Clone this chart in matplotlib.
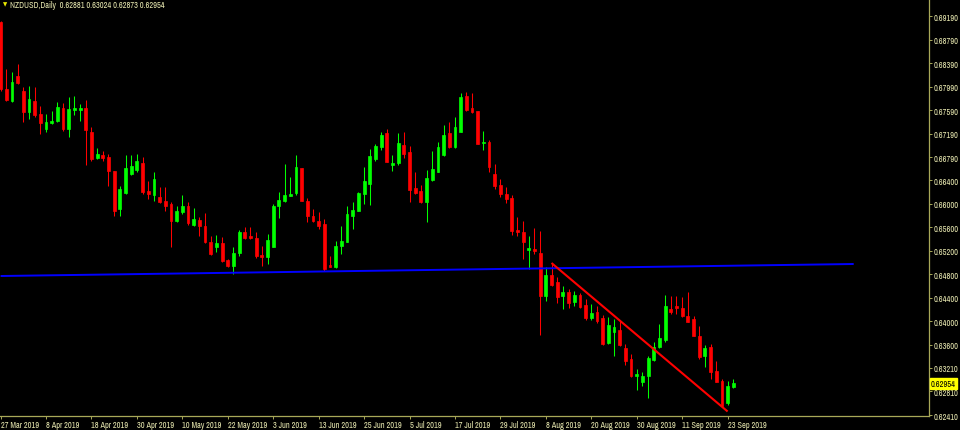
import os
import matplotlib
matplotlib.use("Agg")
import matplotlib.pyplot as plt
from matplotlib import font_manager
from matplotlib.font_manager import FontProperties
import numpy as np

# ---- data (NZDUSD daily, 27 Mar 2019 .. 24 Sep 2019) ----
opens = [0.69088,0.67950,0.67746,0.68171,0.67916,0.67559,0.67746,0.67525,0.67270,0.67372,
         0.67406,0.67627,0.67270,0.67593,0.67593,0.67627,0.67219,0.66777,0.66828,0.66794,
         0.66556,0.65911,0.66183,0.66505,0.66573,0.66692,0.66217,0.66149,0.66115,0.66047,
         0.65996,0.65707,0.65860,0.65962,0.65639,0.65724,0.65622,0.65350,0.65265,0.65333,
         0.65044,0.64942,0.65163,0.65520,0.65452,0.65418,0.65129,0.65095,0.65265,0.65962,
         0.66047,0.66132,0.66183,0.66607,0.66047,0.65792,0.65707,0.65656,0.64959,0.64925,
         0.65282,0.65350,0.65792,0.65877,0.66166,0.66335,0.66760,0.66964,0.67202,0.66658,
         0.66692,0.66998,0.66879,0.66268,0.66217,0.66030,0.66403,0.66539,0.66828,0.67202,
         0.66964,0.67219,0.67831,0.67627,0.67576,0.67032,0.67049,0.66505,0.66319,0.66166,
         0.66098,0.65554,0.65520,0.65214,0.65231,0.65163,0.64432,0.64789,0.64670,0.64432,
         0.64500,0.64330,0.64449,0.64279,0.64059,0.64160,0.64059,0.63634,0.63821,0.63855,
         0.63549,0.63362,0.63073,0.62971,0.63073,0.63345,0.63566,0.63685,0.64211,0.64262,
         0.64228,0.64093,0.64042,0.63753,0.63413,0.63566,0.63158,0.62988,0.62614,0.62881]
highs = [0.69105,0.68290,0.68239,0.68374,0.67984,0.68001,0.67984,0.67661,0.67525,0.67576,
         0.67729,0.67712,0.67814,0.67831,0.67695,0.67763,0.67304,0.66947,0.66896,0.66845,
         0.66556,0.66302,0.66828,0.66828,0.66845,0.66794,0.66386,0.66539,0.66285,0.66285,
         0.66030,0.65962,0.66149,0.66030,0.65928,0.65775,0.65843,0.65452,0.65469,0.65435,
         0.65061,0.65265,0.65554,0.65605,0.65605,0.65520,0.65282,0.65486,0.65996,0.66200,
         0.66675,0.66454,0.66828,0.66607,0.66098,0.65911,0.65860,0.65741,0.65112,0.65367,
         0.65622,0.65962,0.66030,0.66200,0.66624,0.66930,0.67015,0.67219,0.67270,0.66828,
         0.67202,0.67219,0.66981,0.66539,0.66319,0.66573,0.66896,0.67049,0.67338,0.67389,
         0.67474,0.67882,0.67899,0.67882,0.67576,0.67236,0.67083,0.66675,0.66420,0.66285,
         0.66149,0.65775,0.65707,0.65452,0.65588,0.65537,0.64925,0.64993,0.64755,0.64602,
         0.64551,0.64517,0.64483,0.64381,0.64296,0.64262,0.64110,0.64076,0.64042,0.64008,
         0.63617,0.63447,0.63192,0.63141,0.63413,0.63651,0.63957,0.64449,0.64432,0.64432,
         0.64415,0.64500,0.64093,0.63923,0.63600,0.63617,0.63328,0.63022,0.62988,0.63024]
lows = [0.67916,0.67746,0.67729,0.68035,0.67389,0.67440,0.67474,0.67185,0.67219,0.67355,
        0.67389,0.67236,0.67134,0.67508,0.67406,0.66658,0.66726,0.66760,0.66726,0.66302,
        0.65792,0.65792,0.66166,0.66488,0.66539,0.66166,0.66081,0.66047,0.66013,0.65877,
        0.65265,0.65690,0.65826,0.65639,0.65622,0.65452,0.65333,0.65129,0.65180,0.65010,
        0.64925,0.64806,0.65112,0.65401,0.65401,0.65078,0.64942,0.64976,0.65265,0.65758,
        0.66030,0.66132,0.66149,0.66047,0.65690,0.65690,0.65571,0.64857,0.64925,0.64908,
        0.65146,0.65350,0.65571,0.65877,0.65996,0.65979,0.66726,0.66913,0.66709,0.66556,
        0.66658,0.66777,0.66030,0.66166,0.66013,0.65690,0.66386,0.66539,0.66811,0.66947,
        0.66947,0.67219,0.67576,0.67542,0.67015,0.66913,0.66539,0.66251,0.66115,0.66013,
        0.65469,0.65452,0.65061,0.64891,0.65146,0.63770,0.64347,0.64602,0.64313,0.64211,
        0.64228,0.64262,0.64228,0.64025,0.64025,0.63974,0.63600,0.63617,0.63413,0.63583,
        0.63260,0.63056,0.62835,0.62903,0.62699,0.63328,0.63549,0.63651,0.64127,0.64127,
        0.64076,0.63991,0.63753,0.63362,0.63226,0.63022,0.62971,0.62546,0.62580,0.62873]
closes = [0.67950,0.67763,0.68069,0.68052,0.67559,0.67780,0.67508,0.67372,0.67389,0.67406,
          0.67644,0.67270,0.67610,0.67627,0.67627,0.67253,0.66760,0.66845,0.66777,0.66556,
          0.65877,0.66251,0.66607,0.66641,0.66726,0.66200,0.66166,0.66420,0.66030,0.65962,
          0.65707,0.65877,0.65962,0.65673,0.65741,0.65622,0.65350,0.65146,0.65333,0.65027,
          0.64942,0.65163,0.65520,0.65418,0.65418,0.65112,0.65095,0.65384,0.65962,0.66064,
          0.66149,0.66166,0.66624,0.66047,0.65792,0.65707,0.65622,0.64891,0.64925,0.65282,
          0.65367,0.65826,0.65894,0.66183,0.66386,0.66811,0.66981,0.67168,0.66709,0.66692,
          0.67032,0.66845,0.66234,0.66183,0.66030,0.66437,0.66590,0.66964,0.67168,0.66964,
          0.67304,0.67814,0.67593,0.67559,0.67015,0.67049,0.66624,0.66302,0.66166,0.66081,
          0.65537,0.65520,0.65350,0.65248,0.65197,0.64432,0.64789,0.64619,0.64415,0.64500,
          0.64313,0.64449,0.64245,0.64059,0.64144,0.64008,0.63617,0.63940,0.63906,0.63600,
          0.63328,0.63073,0.63107,0.63073,0.63379,0.63566,0.63719,0.64262,0.64160,0.64228,
          0.64093,0.63991,0.63753,0.63396,0.63549,0.63141,0.62971,0.62563,0.62903,0.62954]

date_labels = ["27 Mar 2019", "8 Apr 2019", "18 Apr 2019", "30 Apr 2019", "10 May 2019",
               "22 May 2019", "3 Jun 2019", "13 Jun 2019", "25 Jun 2019", "5 Jul 2019",
               "17 Jul 2019", "29 Jul 2019", "8 Aug 2019", "20 Aug 2019", "30 Aug 2019",
               "11 Sep 2019", "23 Sep 2019"]
date_label_bars = [0, 8, 16, 24, 32, 40, 48, 56, 64, 72, 80, 88, 96, 104, 112, 120, 128]

price_ticks = [0.69190, 0.68790, 0.68390, 0.67990, 0.67590, 0.67190, 0.66790, 0.66400,
               0.66000, 0.65600, 0.65200, 0.64800, 0.64400, 0.64000, 0.63600, 0.63210,
               0.62810, 0.62410]

blue_line_bars = [0, 150.2]
blue_line_prices = [0.64772, 0.64976]
red_line_bars = [97, 128]
red_line_prices = [0.64993, 0.62470]

title_text = "NZDUSD,Daily  0.62881 0.63024 0.62873 0.62954"
last_price = 0.62954

# ---- pick a narrow font if one is installed ----
def pick_font():
    best, best_score = None, 99
    for f in font_manager.fontManager.ttflist:
        base = os.path.basename(f.fname).lower()
        if f.style != "normal" or f.weight not in (400, "normal", "regular"):
            continue
        if any(k in base for k in ("bold", "italic", "light", "thin", "medium", "black", "mono")):
            continue
        score = 99
        if "narrow" in base:
            score = 1
        elif "condensed" in base and "semi" not in base and "extra" not in base:
            score = 2
        elif "semicondensed" in base:
            score = 3
        elif base.startswith("liberationsans-regular"):
            score = 5
        if score < best_score:
            best, best_score = f.fname, score
    return FontProperties(fname=best) if best else FontProperties(family="DejaVu Sans")

FP = pick_font()

# ---- style ----
BG = "#000000"
UP = "#00ff00"
DOWN = "#ff0000"
AXC = "#a8a858"
TXT = "#e8e8b0"

W, H = 960, 431
fig = plt.figure(figsize=(W / 100, H / 100), dpi=100, facecolor=BG)
renderer = fig.canvas.get_renderer()

# size the font so that a price label is about 24 px wide, as in the reference
probe = fig.text(0, 0, "0.69190", fontproperties=FP, fontsize=10)
pw = probe.get_window_extent(renderer).width
probe.remove()
FS = min(6.0, 10 * 24.5 / pw)
FPs = FP.copy()
FPs.set_size(FS)

ax = fig.add_axes([0, 14 / H, 929 / W, 417 / H], facecolor=BG)

o = np.array(opens); h = np.array(highs); l = np.array(lows); c = np.array(closes)
x = np.arange(len(o))
cols = np.where(c >= o, UP, DOWN)

ax.vlines(x, l, h, colors=cols, linewidth=0.75, zorder=2)
ax.bar(x, np.abs(c - o), bottom=np.minimum(o, c), width=0.5, color=cols,
       edgecolor=cols, linewidth=0.5, zorder=3)

ax.plot(blue_line_bars, blue_line_prices, color="#0000ff", lw=1.4, zorder=4,
        solid_capstyle="butt")
ax.plot(red_line_bars, red_line_prices, color="#ff0000", lw=1.5, zorder=4,
        solid_capstyle="butt")

ax.set_xlim(-0.1, 929 / 5.68 - 0.1)
ax.set_ylim(0.623933, 0.69479)

for s in ["top", "left"]:
    ax.spines[s].set_visible(False)
for s in ["right", "bottom"]:
    ax.spines[s].set_color(AXC)
    ax.spines[s].set_linewidth(0.9)

ax.yaxis.tick_right()
ax.set_yticks(price_ticks)
ax.set_yticklabels([f"{v:.5f}" for v in price_ticks], fontproperties=FPs)
ax.tick_params(axis="y", direction="out", length=2.3, width=0.7, colors=AXC,
               labelcolor=TXT, pad=1.1)

ax.set_xticks(date_label_bars)
ax.set_xticklabels(date_labels, fontproperties=FPs)
ax.tick_params(axis="x", direction="out", length=2.2, width=0.7, colors=AXC,
               labelcolor=TXT, pad=0.6)
for lbl in ax.get_xticklabels():
    lbl.set_ha("left")

# current price marker
ax.annotate(f"{last_price:.5f}", xy=(1.0, last_price), xycoords=("axes fraction", "data"),
            xytext=(1.2, 0), textcoords="offset points", ha="left", va="center",
            fontproperties=FPs, color="#000000",
            bbox=dict(boxstyle="square,pad=0.12", fc="#ffff00", ec="#ffff00"))

# header
fig.text(3 / W, 1 - 5 / H, "\u25bc", color="#e8e800", fontsize=4, ha="left", va="center",
         family=["DejaVu Sans"])
fig.text(10 / W, 1 - 5 / H, title_text, color=TXT, fontproperties=FPs, ha="left",
         va="center")

fig.savefig("out.png", dpi=100, facecolor=BG)
